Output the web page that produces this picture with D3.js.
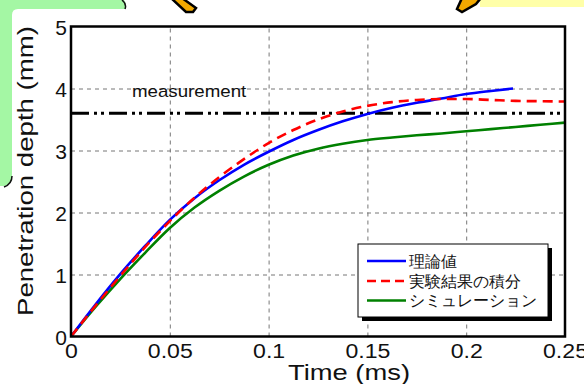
<!DOCTYPE html>
<html>
<head>
<meta charset="utf-8">
<script src="https://cdn.jsdelivr.net/npm/d3@7"></script>
<style>
  html, body { margin: 0; padding: 0; background: #fff; }
  svg { display: block; }
  text { font-family: "Liberation Sans", Arial, sans-serif; }
</style>
</head>
<body>
<svg id="chart" width="584" height="384"></svg>
<script>
// ---- data ----
const xTicks = [0, 0.05, 0.1, 0.15, 0.2, 0.25];
const xTickLabels = ["0", "0.05", "0.1", "0.15", "0.2", "0.25"];
const yTicks = [0, 1, 2, 3, 4, 5];
const yTickLabels = ["0", "1", "2", "3", "4", "5"];

const tTheory = [0, 0.0125, 0.025, 0.0375, 0.05, 0.0625, 0.075, 0.0875, 0.1, 0.1125, 0.125, 0.1375, 0.15, 0.1625, 0.175, 0.1875, 0.2, 0.2125, 0.2237];
const theory  = [0, 0.52, 1.01, 1.46, 1.88, 2.23, 2.52, 2.77, 2.98, 3.17, 3.33, 3.47, 3.59, 3.69, 3.77, 3.84, 3.91, 3.96, 4.00];

const tSeries = [0, 0.0125, 0.025, 0.0375, 0.05, 0.0625, 0.075, 0.0875, 0.1, 0.1125, 0.125, 0.1375, 0.15, 0.1625, 0.175, 0.1875, 0.2, 0.2125, 0.225, 0.2375, 0.25];
const experiment = [0, 0.50, 0.98, 1.44, 1.86, 2.24, 2.57, 2.86, 3.12, 3.33, 3.50, 3.63, 3.72, 3.78, 3.815, 3.83, 3.83, 3.815, 3.80, 3.795, 3.79];
const simulation = [0, 0.48, 0.93, 1.35, 1.75, 2.08, 2.35, 2.58, 2.77, 2.92, 3.03, 3.11, 3.17, 3.21, 3.245, 3.275, 3.31, 3.345, 3.38, 3.415, 3.45];

const measurement = 3.6;
const measurementLabel = "measurement";
const legendLabels = ["理論値", "実験結果の積分", "シミュレーション"];
const xTitle = "Time (ms)";
const yTitle = "Penetration depth (mm)";

// ---- layout ----
const svg = d3.select("#chart");
const L = 71, R = 565, T = 26.5, B = 336.5;
const x = d3.scaleLinear().domain([0, 0.25]).range([L, R]);
const y = d3.scaleLinear().domain([0, 5]).range([B, T]);

// background decorations (slide pieces around the chart)
svg.append("rect").attr("x", 0).attr("y", 0).attr("width", 584).attr("height", 384).attr("fill", "#fff");
svg.append("path")
  .attr("d", "M0,0 H124 Q127,4 125,9 H18 Q12,9 12,15 V178 Q12,184 4,186 H0 Z")
  .attr("fill", "#a4f7a4");
svg.append("path").attr("d", "M122,0 Q127,4 125,9").attr("fill", "none").attr("stroke", "#111").attr("stroke-width", 1.5);
svg.append("path").attr("d", "M12,176 Q12,184 4,187").attr("fill", "none").attr("stroke", "#111").attr("stroke-width", 1.5);
svg.append("rect").attr("x", 480).attr("y", 0).attr("width", 104).attr("height", 7).attr("fill", "#ffffa8");
svg.append("polygon").attr("points", "171,-2 182,-2 196,8 193,12 186,12")
  .attr("fill", "#f2a900").attr("stroke", "#000").attr("stroke-width", 2.5);
svg.append("polygon").attr("points", "462,-2 481,-2 476,4 462,12 457,9")
  .attr("fill", "#f2a900").attr("stroke", "#000").attr("stroke-width", 2.5);

// grid via axes
const gx = svg.append("g").attr("transform", `translate(0,${B})`)
  .call(d3.axisBottom(x).tickValues(xTicks.slice(1, -1)).tickSize(-(B - T)).tickFormat(""));
gx.select(".domain").remove();
gx.selectAll("line").attr("stroke", "#777").attr("stroke-width", 1).attr("stroke-dasharray", "4,4");

const gy = svg.append("g").attr("transform", `translate(${L},0)`)
  .call(d3.axisLeft(y).tickValues(yTicks.slice(1, -1)).tickSize(-(R - L)).tickFormat(""));
gy.select(".domain").remove();
gy.selectAll("line").attr("stroke", "#777").attr("stroke-width", 1).attr("stroke-dasharray", "4,4");

// measurement line
svg.append("line")
  .attr("x1", x(0)).attr("x2", x(0.25)).attr("y1", y(measurement)).attr("y2", y(measurement))
  .attr("stroke", "#000").attr("stroke-width", 3)
  .attr("stroke-dasharray", "18,5,3,4,3,5");
svg.append("text").attr("transform", `translate(132,96.5) scale(1.1,1)`)
  .attr("font-size", 17).attr("fill", "#111").text(measurementLabel);

// series
const line = d3.line().curve(d3.curveMonotoneX);
svg.append("path")
  .attr("d", line(tSeries.map((t, i) => [x(t), y(simulation[i])])))
  .attr("fill", "none").attr("stroke", "#008000").attr("stroke-width", 2.6);
svg.append("path")
  .attr("d", line(tTheory.map((t, i) => [x(t), y(theory[i])])))
  .attr("fill", "none").attr("stroke", "#0000ff").attr("stroke-width", 2.6);
svg.append("path")
  .attr("d", line(tSeries.map((t, i) => [x(t), y(experiment[i])])))
  .attr("fill", "none").attr("stroke", "#ff0000").attr("stroke-width", 2.6)
  .attr("stroke-dasharray", "10,6");

// plot frame
svg.append("rect").attr("x", L).attr("y", T).attr("width", R - L).attr("height", B - T)
  .attr("fill", "none").attr("stroke", "#000").attr("stroke-width", 2.5);

// axes tick labels via d3 axes
const ax = svg.append("g").attr("transform", `translate(0,${B})`)
  .call(d3.axisBottom(x).tickValues(xTicks).tickSize(0).tickPadding(0)
    .tickFormat((d, i) => xTickLabels[i]));
ax.select(".domain").remove();
ax.selectAll("text").attr("font-size", 21).attr("fill", "#111")
  .attr("font-family", "'Liberation Sans', Arial, sans-serif")
  .attr("dy", null).attr("y", 0)
  .attr("transform", "translate(0,21) scale(1.1,1)");

const ay = svg.append("g").attr("transform", `translate(${L},0)`)
  .call(d3.axisLeft(y).tickValues(yTicks).tickSize(0).tickPadding(0)
    .tickFormat((d, i) => yTickLabels[i]));
ay.select(".domain").remove();
ay.selectAll("text").attr("font-size", 21).attr("fill", "#111")
  .attr("font-family", "'Liberation Sans', Arial, sans-serif")
  .attr("x", -4).attr("dy", "0.36em");

// axis titles
svg.append("text").attr("x", 349).attr("y", 380).attr("text-anchor", "middle")
  .attr("font-size", 22).attr("fill", "#111")
  .attr("textLength", 122).attr("lengthAdjust", "spacingAndGlyphs").text(xTitle);
svg.append("text").attr("transform", "translate(33,171) rotate(-90)").attr("text-anchor", "middle")
  .attr("font-size", 22).attr("fill", "#111")
  .attr("textLength", 290).attr("lengthAdjust", "spacingAndGlyphs").text(yTitle);

// legend
const lg = svg.append("g");
lg.append("rect").attr("x", 362).attr("y", 248).attr("width", 190).attr("height", 73).attr("fill", "#000");
lg.append("rect").attr("x", 358).attr("y", 244).attr("width", 190).attr("height", 73)
  .attr("fill", "#fff").attr("stroke", "#000").attr("stroke-width", 1);
const legColors = ["#0000ff", "#ff0000", "#008000"];
const legDash = [null, "9,5", null];
const rowY = [261, 281, 300.5];
legendLabels.forEach((lab, i) => {
  lg.append("line").attr("x1", 367).attr("x2", 406).attr("y1", rowY[i]).attr("y2", rowY[i])
    .attr("stroke", legColors[i]).attr("stroke-width", 2.6).attr("stroke-dasharray", legDash[i]);
  lg.append("text").attr("x", 409).attr("y", rowY[i]).attr("dy", "0.36em")
    .attr("font-family", "'Noto Sans CJK JP', sans-serif").attr("font-size", 15.5).attr("fill", "#111")
    .text(lab);
});
</script>
</body>
</html>
